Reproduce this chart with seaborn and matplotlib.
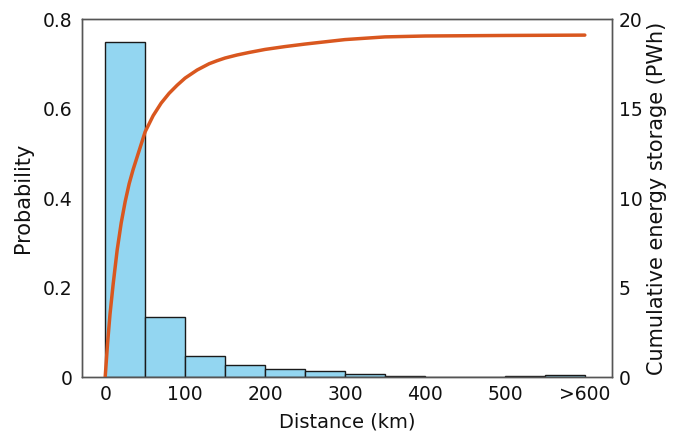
import numpy as np
import pandas as pd
import matplotlib
matplotlib.use("Agg")
import matplotlib.pyplot as plt
import seaborn as sns

# Distance bins (km), 50 km wide; the last bin collects everything beyond 550 km
bin_edges = [0, 50, 100, 150, 200, 250, 300, 350, 400, 450, 500, 550, 600]
probability = [0.748, 0.134, 0.0475, 0.027, 0.018, 0.0127, 0.0067,
               0.002, 0.001, 0.001, 0.0015, 0.004]

# Cumulative energy storage versus distance
curve_km = [0, 3, 6, 10, 15, 20, 25, 30, 35, 40, 45, 50, 60, 70, 80, 90,
            100, 115, 130, 140, 150, 165, 180, 200, 225, 250, 300, 350,
            400, 500, 600]
curve_pwh = [0, 1.9, 3.5, 5.2, 7.1, 8.6, 9.8, 10.8, 11.6, 12.3, 13.0, 13.7,
             14.6, 15.3, 15.85, 16.3, 16.7, 17.15, 17.5, 17.67, 17.82, 17.99,
             18.13, 18.3, 18.46, 18.6, 18.85, 19.0, 19.05, 19.08, 19.1]

x_ticks = [0, 100, 200, 300, 400, 500, 600]
x_ticklabels = ["0", "100", "200", "300", "400", "500", ">600"]
left_ticks = [0, 0.2, 0.4, 0.6, 0.8]
left_ticklabels = ["0", "0.2", "0.4", "0.6", "0.8"]
right_ticks = [0, 5, 10, 15, 20]

sns.set_theme(style="white")
plt.rcParams["font.family"] = ["DejaVu Sans"]
plt.rcParams["text.color"] = "#111111"
plt.rcParams["axes.labelcolor"] = "#111111"

bins_df = pd.DataFrame({
    "left": bin_edges[:-1],
    "prob": probability,
})
bins_df["mid"] = bins_df["left"] + 25
curve_df = pd.DataFrame({"km": curve_km, "pwh": curve_pwh})

fig = plt.figure(figsize=(6.8, 4.45), dpi=100)
ax = fig.add_axes([0.1206, 0.1528, 0.7794, 0.8045])

sns.histplot(data=bins_df, x="mid", weights="prob", bins=bin_edges,
             color="#93D6F1", edgecolor="#1a1a1a", linewidth=1.0,
             alpha=1.0, ax=ax)

ax.set_xlim(-29, 634)
ax.set_ylim(0, 0.8)
ax.set_xticks(x_ticks)
ax.set_xticklabels(x_ticklabels)
ax.set_yticks(left_ticks)
ax.set_yticklabels(left_ticklabels)
ax.set_xlabel("Distance (km)", fontsize=14)
ax.set_ylabel("Probability", fontsize=15)
ax.tick_params(axis="both", length=0, labelsize=13.5, colors="#111111")
ax.tick_params(axis="y", pad=7)
ax.tick_params(axis="x", pad=6)
ax.xaxis.set_label_coords(0.5, -0.098)
ax.yaxis.set_label_coords(-0.0925, 0.5)

ax2 = ax.twinx()
sns.lineplot(data=curve_df, x="km", y="pwh", color="#D9571F",
             linewidth=2.5, ax=ax2)
ax2.set_ylim(0, 20)
ax2.set_yticks(right_ticks)
ax2.set_ylabel("Cumulative energy storage (PWh)", fontsize=15)
ax2.tick_params(axis="y", length=0, labelsize=13.5, pad=5, colors="#111111")
ax2.yaxis.set_label_coords(1.066, 0.5)

for a in (ax, ax2):
    for s in a.spines.values():
        s.set_color("#555555")
        s.set_linewidth(1.0)

fig.savefig("out.png", dpi=100)
